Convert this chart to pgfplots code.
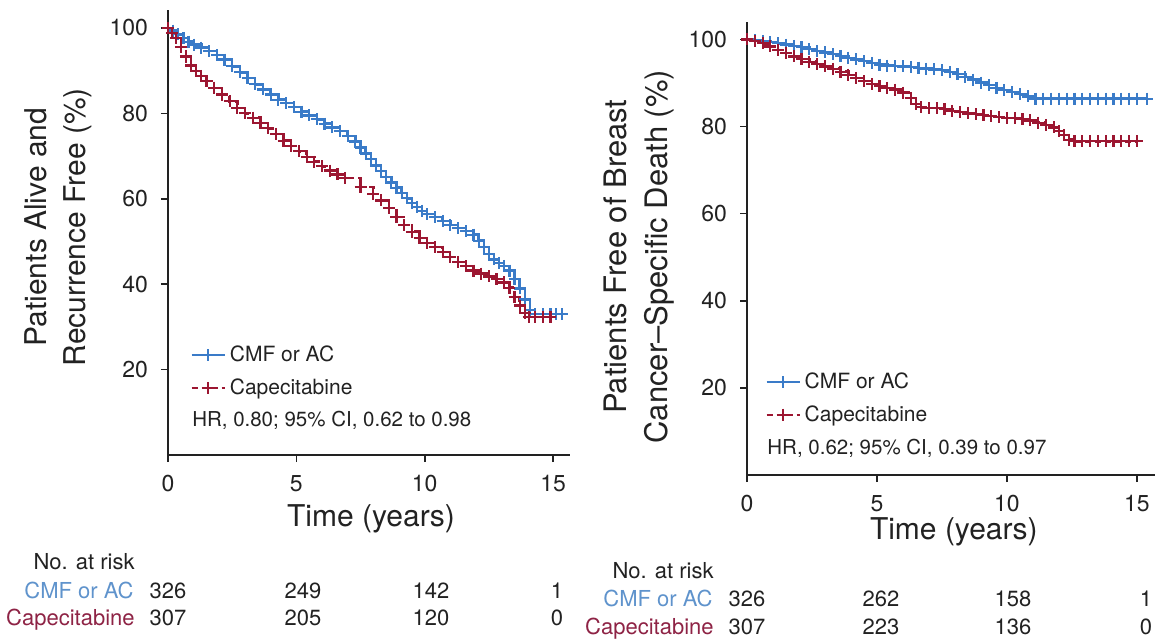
\documentclass[border=0pt]{standalone}
\usepackage{fontspec}
\setmainfont{TeX Gyre Heros}
\usepackage{pgfplots}
\pgfplotsset{compat=1.18}
\definecolor{cmfblue}{HTML}{3A7BC8}
\definecolor{capred}{HTML}{9C1631}
\definecolor{cmftext}{HTML}{5F93CC}
\definecolor{captext}{HTML}{8E2345}
\definecolor{txt}{HTML}{222222}

\pgfplotsset{
 kmaxis/.style={
   scale only axis, axis x line=bottom, axis y line=left,
   axis line style={-, line width=1.3pt, txt},
   tick style={line width=0.8pt, txt},
   tick align=outside, major tick length=3.5pt,
   xtick={0,5,10,15}, ytick={20,40,60,80,100},
   xmin=0, ymin=0,
   /pgf/number format/assume math mode=true,
   tick label style={font=\fontsize{11.5pt}{13pt}\selectfont, text=txt},
   xticklabel style={yshift=-3pt},
   yticklabel style={xshift=-3pt},
   clip=false,
   legend cell align=left,
   legend image code/.code={\draw[mark repeat=2,mark phase=2,##1] plot coordinates {(0pt,0pt)(8.25pt,0pt)(16.5pt,0pt)};},
   legend style={draw=none, fill=none, anchor=north west, inner sep=0pt, font=\fontsize{10.5pt}{12pt}\selectfont, text=txt, row sep=3pt},
   xlabel style={font=\fontsize{15pt}{18pt}\selectfont, text=txt, anchor=center},
   ylabel style={font=\fontsize{15pt}{19.5pt}\selectfont, text=txt, anchor=center, align=center, rotate=0},
 },
 cmf/.style={const plot, cmfblue, line width=1.2pt, mark=+, mark size=3pt, mark options={solid, line width=1.1pt}},
 cap/.style={const plot, capred, line width=1.2pt, dash pattern=on 3pt off 2pt, mark=+, mark size=3pt, mark options={solid, line width=1.1pt}},
}

\begin{document}
\begin{tikzpicture}
\useasboundingbox (0,0) rectangle (577.5pt,-321.5pt);

% ---------------- Left: disease-free survival ----------------
\begin{axis}[kmaxis,
  at={(84pt,-227.5pt)}, anchor=origin,
  width=201pt, height=222.5pt,
  xmax=15.66, ymax=104.2,
  xlabel={Time (years)},
  xlabel style={at={(axis description cs:0.505,-0.144)}},
  ylabel={Patients Alive and\\Recurrence Free (\%)},
  ylabel style={at={(axis description cs:-0.274,0.512)}},
  legend style={at={(axis cs:0.86,26.6)}},
]
\addplot[cmf] coordinates {
(0,100) (0.2,99.4) (0.4,98.5) (0.6,97.6) (0.8,96.8) (1.0,96.1) (1.3,95.4) (1.6,94.6)
(1.9,93.6) (2.2,92.6) (2.5,91.0) (2.8,89.6) (3.1,88.3) (3.4,86.8) (3.7,85.6) (4.0,84.4)
(4.3,83.2) (4.6,82.4) (4.9,81.5) (5.2,80.4) (5.5,79.5) (5.8,78.6) (6.1,77.6) (6.4,76.7)
(6.7,75.8) (7.0,74.7) (7.3,73.4) (7.5,72.0) (7.7,70.6) (7.9,69.3) (8.1,67.8) (8.3,66.5)
(8.5,65.1) (8.7,63.8) (8.9,62.6) (9.1,61.3) (9.3,60.1) (9.5,59.0) (9.7,58.1) (9.9,57.2)
(10.1,56.4) (10.4,55.7) (10.7,54.8) (11.0,53.9) (11.3,53.1) (11.6,52.4) (11.9,51.6) (12.1,50.2)
(12.3,48.7) (12.5,47.0) (12.7,45.8) (12.9,45.0) (13.1,44.3) (13.3,43.2) (13.5,41.2) (13.7,39.0)
(13.9,36.4) (14.1,34.0) (14.3,33.0) (14.6,33.0) (14.9,33.0) (15.1,33.0) (15.35,33.0)
};
\addlegendentry{CMF or AC}
\addplot[cap] coordinates {
(0,100) (0.15,98.8) (0.3,97.6) (0.5,95.5) (0.7,93.3) (0.9,91.2) (1.1,89.9) (1.3,88.8)
(1.5,87.6) (1.8,86.0) (2.1,84.4) (2.4,82.8) (2.7,81.2) (3.0,80.0) (3.3,79.0) (3.6,77.8)
(3.9,76.5) (4.2,75.2) (4.5,73.6) (4.8,72.4) (5.1,71.1) (5.4,69.8) (5.7,68.7) (6.0,67.6)
(6.3,66.6) (6.6,65.7) (6.9,64.9) (7.5,62.8) (8.0,61.1) (8.3,59.6) (8.6,57.9) (8.9,55.8)
(9.2,53.8) (9.5,52.3) (9.8,50.8) (10.1,49.7) (10.4,48.7) (10.7,47.6) (11.0,46.3) (11.3,45.2)
(11.6,44.2) (11.9,43.2) (12.2,42.5) (12.5,41.8) (12.8,41.2) (13.1,40.4) (13.3,39.2) (13.5,37.0)
(13.7,35.0) (13.9,33.2) (14.05,32.3) (14.3,32.3) (14.6,32.3) (14.9,32.3)
};
\addlegendentry{Capecitabine}
\node[anchor=west, font=\fontsize{10.25pt}{12pt}\selectfont, text=txt, inner sep=0pt] at (axis cs:0.93,8.0) {HR, 0.80; 95\% CI, 0.62 to 0.98};
\end{axis}

% ---------------- Right: breast cancer-specific survival ----------------
\begin{axis}[kmaxis,
  at={(373.5pt,-237.5pt)}, anchor=origin,
  width=204pt, height=226.5pt,
  xmax=15.7, ymax=104,
  xlabel={Time (years)},
  xlabel style={at={(axis description cs:0.507,-0.126)}},
  ylabel={Patients Free of Breast\\Cancer–Specific Death (\%)},
  ylabel style={at={(axis description cs:-0.2635,0.482)}, font=\fontsize{15.5pt}{20.5pt}\selectfont},
  legend style={at={(axis cs:0.69,24.5)}},
]
\addplot[cmf] coordinates {
(0,100) (0.3,99.8) (0.6,99.6) (0.9,99.4) (1.2,99.1) (1.5,98.8) (1.8,98.5) (2.1,98.2)
(2.4,97.8) (2.7,97.4) (3.0,97.0) (3.3,96.6) (3.6,96.2) (3.9,95.8) (4.2,95.4) (4.5,95.0)
(4.8,94.6) (5.1,94.2) (5.4,94.0) (5.7,93.9) (6.0,93.8) (6.3,93.7) (6.6,93.5) (6.9,93.3)
(7.2,93.1) (7.5,92.9) (7.8,92.5) (8.1,92.0) (8.4,91.4) (8.7,90.8) (9.0,90.1) (9.3,89.5)
(9.6,88.9) (9.9,88.4) (10.2,87.9) (10.5,87.4) (10.8,86.9) (11.1,86.4) (11.4,86.4) (11.7,86.4)
(12.0,86.4) (12.3,86.4) (12.6,86.4) (12.9,86.4) (13.2,86.4) (13.5,86.4) (13.8,86.4) (14.1,86.4)
(14.4,86.4) (14.7,86.4) (15.0,86.4) (15.4,86.4)
};
\addlegendentry{CMF or AC}
\addplot[cap] coordinates {
(0,100) (0.3,99.6) (0.6,99.1) (0.9,98.4) (1.2,97.6) (1.5,96.9) (1.8,96.1) (2.1,95.5)
(2.4,94.9) (2.7,94.3) (3.0,93.8) (3.3,93.3) (3.6,92.6) (3.9,91.9) (4.2,91.2) (4.5,90.4)
(4.8,89.7) (5.1,89.3) (5.4,88.9) (5.7,88.5) (6.0,87.8) (6.3,86.6) (6.5,85.2) (6.7,84.4)
(7.0,84.2) (7.3,84.2) (7.6,84.0) (7.9,83.6) (8.2,83.3) (8.5,83.0) (8.8,82.8) (9.1,82.6)
(9.4,82.4) (9.7,82.2) (10.0,82.0) (10.3,81.9) (10.6,81.7) (10.9,81.4) (11.2,80.9) (11.5,80.4)
(11.8,79.8) (12.0,79.0) (12.2,78.0) (12.4,77.0) (12.6,76.6) (12.9,76.6) (13.2,76.6) (13.5,76.6)
(13.8,76.6) (14.1,76.6) (14.4,76.6) (14.7,76.6) (15.0,76.6)
};
\addlegendentry{Capecitabine}
\node[anchor=west, font=\fontsize{10.25pt}{12pt}\selectfont, text=txt, inner sep=0pt] at (axis cs:0.77,6.2) {HR, 0.62; 95\% CI, 0.39 to 0.97};
\end{axis}

% ---------------- Number at risk tables ----------------
\begin{scope}[every node/.style={font=\fontsize{11pt}{13pt}\selectfont, inner sep=0pt, text=txt}]
\node[anchor=mid east] at (67.5pt,-282pt) {No. at risk};
\node[anchor=mid east, text=cmftext] at (67pt,-296.5pt) {CMF or AC};
\node[anchor=mid east, text=captext] at (67.5pt,-310pt) {Capecitabine};
\node[anchor=mid] at (84pt,-296.5pt) {326};
\node[anchor=mid] at (151.5pt,-296.5pt) {249};
\node[anchor=mid] at (215.5pt,-296.5pt) {142};
\node[anchor=mid] at (278.5pt,-296.5pt) {1};
\node[anchor=mid] at (84pt,-310pt) {307};
\node[anchor=mid] at (151.5pt,-310pt) {205};
\node[anchor=mid] at (215.5pt,-310pt) {120};
\node[anchor=mid] at (278.5pt,-310pt) {0};

\node[anchor=mid east] at (357pt,-286.5pt) {No. at risk};
\node[anchor=mid east, text=cmftext] at (356.5pt,-300.5pt) {CMF or AC};
\node[anchor=mid east, text=captext] at (357pt,-314.5pt) {Capecitabine};
\node[anchor=mid] at (373.5pt,-300.5pt) {326};
\node[anchor=mid] at (440.5pt,-300.5pt) {262};
\node[anchor=mid] at (506.5pt,-300.5pt) {158};
\node[anchor=mid] at (573pt,-300.5pt) {1};
\node[anchor=mid] at (373.5pt,-314.5pt) {307};
\node[anchor=mid] at (440.5pt,-314.5pt) {223};
\node[anchor=mid] at (506.5pt,-314.5pt) {136};
\node[anchor=mid] at (573pt,-314.5pt) {0};
\end{scope}
\end{tikzpicture}
\end{document}
